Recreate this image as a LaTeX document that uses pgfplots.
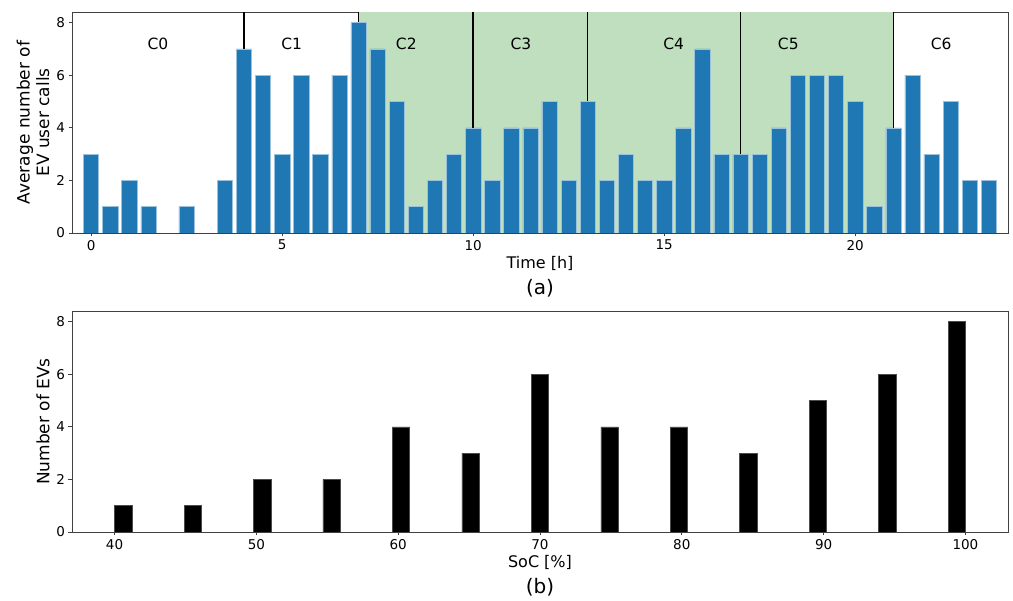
\documentclass[border=0pt]{standalone}
\usepackage{fontspec}
\setmainfont{DejaVu Sans}
\usepackage{pgfplots}
\pgfplotsset{compat=1.18}
\definecolor{c1}{HTML}{1F77B4}
\definecolor{shade}{HTML}{BFDFBF}
\begin{document}
\begin{tikzpicture}
\path[use as bounding box] (-72bp,12bp) rectangle (941bp,-589bp);
\pgfplotsset{
  every axis/.append style={
    scale only axis, width=936bp, height=221bp,
    axis line style={black!75, line width=0.8bp},
    tick align=outside, xtick pos=lower, ytick pos=left,
    major tick length=3.5bp,
    every tick/.style={black!75, line width=0.8bp},
    tick label style={font=\fontsize{13.5bp}{16bp}\selectfont},
    /pgf/number format/assume math mode=true,
    ymin=0, ymax=8.4, ytick={0,2,4,6,8},
    clip mode=individual,
  }
}
\begin{axis}[at={(0,0)}, anchor=north west, name=top,
  xmin=-0.5, xmax=24, xtick={0,5,10,15,20},
  xlabel={Time [h]},
  xlabel style={at={(axis description cs:0.5,-0.136)}, anchor=center, font=\fontsize{16bp}{19bp}\selectfont},
  ylabel={\shortstack{Average number of\\EV user calls}},
  ylabel style={at={(axis description cs:-0.0417,0.5)}, anchor=center, font=\fontsize{17bp}{19bp}\selectfont},
]
\addplot[fill=shade, draw=none] coordinates {(7,0) (7,8.4) (21,8.4) (21,0)} -- cycle;
\addplot[black, line width=1.4bp] coordinates {(4,0) (4,8.4)};
\addplot[black, line width=1.4bp] coordinates {(7,0) (7,8.4)};
\addplot[black, line width=1.4bp] coordinates {(10,0) (10,8.4)};
\addplot[black, line width=1.4bp] coordinates {(13,0) (13,8.4)};
\addplot[black, line width=1.4bp] coordinates {(17,0) (17,8.4)};
\addplot[black, line width=1.4bp] coordinates {(21,0) (21,8.4)};
\addplot[ybar, bar width=0.4, bar shift=0pt, fill=c1, draw=c1!45!white, line width=0.5bp] coordinates {
(0,3) (0.5,1) (1,2) (1.5,1) (2.5,1) (3.5,2)
(4,7) (4.5,6) (5,3) (5.5,6) (6,3) (6.5,6) (7,8) (7.5,7) (8,5) (8.5,1)
(9,2) (9.5,3) (10,4) (10.5,2) (11,4) (11.5,4) (12,5) (12.5,2) (13,5) (13.5,2)
(14,3) (14.5,2) (15,2) (15.5,4) (16,7) (16.5,3) (17,3) (17.5,3) (18,4) (18.5,6)
(19,6) (19.5,6) (20,5) (20.5,1) (21,4) (21.5,6) (22,3) (22.5,5) (23,2) (23.5,2)
};
\foreach \xx/\tt in {1.75/C0,5.25/C1,8.25/C2,11.25/C3,15.25/C4,18.25/C5,22.25/C6}{
  \edef\temp{\noexpand\node[font=\noexpand\fontsize{15.5bp}{18bp}\noexpand\selectfont] at (axis cs:\xx,7.2) {\tt};}
  \temp
}
\node[font=\fontsize{20bp}{24bp}\selectfont] at (axis description cs:0.5,-0.249) {(a)};
\end{axis}
\begin{axis}[at={(0,-299bp)}, anchor=north west,
  xmin=37, xmax=103, xtick={40,50,60,70,80,90,100},
  xlabel={SoC [\%]},
  xlabel style={at={(axis description cs:0.5,-0.140)}, anchor=center, font=\fontsize{16bp}{19bp}\selectfont},
  ylabel={Number of EVs},
  ylabel style={at={(axis description cs:-0.031,0.5)}, anchor=center, font=\fontsize{17bp}{19bp}\selectfont},
]
\addplot[ybar, bar width=1.2245, bar shift=0pt, fill=black, draw=black!70, line width=0.5bp] coordinates {
(40.61,1) (45.51,1) (50.41,2) (55.31,2) (60.20,4) (65.10,3) (70.00,6)
(74.90,4) (79.80,4) (84.69,3) (89.59,5) (94.49,6) (99.39,8)
};
\node[font=\fontsize{20bp}{24bp}\selectfont] at (axis description cs:0.5,-0.249) {(b)};
\end{axis}
\end{tikzpicture}
\end{document}
